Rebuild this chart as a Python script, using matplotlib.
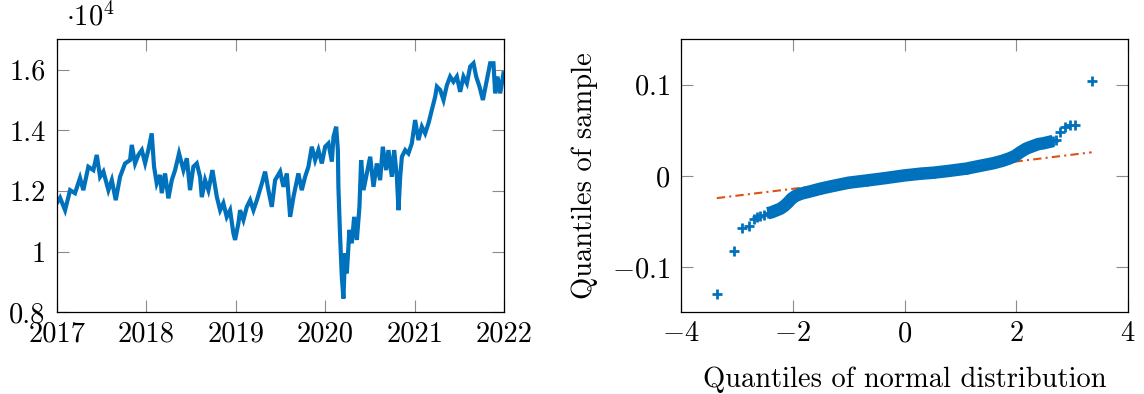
import numpy as np
import matplotlib
matplotlib.use("Agg")
import matplotlib.pyplot as plt

plt.rcParams['font.family'] = 'serif'
plt.rcParams['font.serif'] = ['cmr10']
plt.rcParams['mathtext.fontset'] = 'cm'
plt.rcParams['axes.formatter.use_mathtext'] = True
plt.rcParams['font.size'] = 20

# index level (x1e4), sampled along 2017-2022
years = [2017.000, 2017.037, 2017.093, 2017.149, 2017.204, 2017.260, 2017.297, 2017.353,
         2017.409, 2017.447, 2017.484, 2017.521, 2017.577, 2017.615, 2017.659, 2017.707,
         2017.763, 2017.819, 2017.838, 2017.875, 2017.912, 2017.950, 2017.987, 2018.023,
         2018.061, 2018.087, 2018.117, 2018.154, 2018.173, 2018.210, 2018.247, 2018.285,
         2018.322, 2018.366, 2018.415, 2018.453, 2018.489, 2018.526, 2018.564, 2018.601,
         2018.620, 2018.657, 2018.694, 2018.739, 2018.788, 2018.825, 2018.861, 2018.899,
         2018.936, 2018.973, 2018.992, 2019.029, 2019.048, 2019.085, 2019.123, 2019.160,
         2019.197, 2019.235, 2019.291, 2019.327, 2019.364, 2019.402, 2019.439, 2019.495,
         2019.532, 2019.570, 2019.607, 2019.644, 2019.699, 2019.737, 2019.774, 2019.811,
         2019.849, 2019.886, 2019.923, 2019.961, 2019.998, 2020.035, 2020.073, 2020.091,
         2020.121, 2020.140, 2020.146, 2020.165, 2020.184, 2020.202, 2020.221, 2020.240,
         2020.269, 2020.296, 2020.322, 2020.352, 2020.381, 2020.400, 2020.426, 2020.464,
         2020.501, 2020.538, 2020.575, 2020.612, 2020.642, 2020.679, 2020.705, 2020.743,
         2020.769, 2020.799, 2020.817, 2020.836, 2020.855, 2020.892, 2020.928, 2020.966,
         2021.003, 2021.040, 2021.078, 2021.115, 2021.152, 2021.190, 2021.227, 2021.246,
         2021.283, 2021.320, 2021.358, 2021.394, 2021.431, 2021.469, 2021.506, 2021.543,
         2021.581, 2021.618, 2021.655, 2021.685, 2021.722, 2021.760, 2021.804, 2021.841,
         2021.878, 2021.897, 2021.923, 2021.953, 2021.990]
level = [1.160, 1.178, 1.137, 1.203, 1.193, 1.243, 1.203, 1.280,
         1.269, 1.319, 1.247, 1.264, 1.203, 1.236, 1.170, 1.247,
         1.291, 1.302, 1.352, 1.291, 1.319, 1.335, 1.292, 1.335,
         1.390, 1.280, 1.225, 1.253, 1.193, 1.258, 1.176, 1.236,
         1.269, 1.324, 1.269, 1.308, 1.203, 1.280, 1.291, 1.247,
         1.180, 1.236, 1.203, 1.269, 1.181, 1.137, 1.160, 1.115,
         1.137, 1.061, 1.039, 1.094, 1.137, 1.105, 1.148, 1.170,
         1.137, 1.170, 1.225, 1.264, 1.203, 1.148, 1.236, 1.264,
         1.214, 1.258, 1.115, 1.181, 1.258, 1.203, 1.247, 1.280,
         1.346, 1.302, 1.335, 1.291, 1.346, 1.357, 1.297, 1.379,
         1.412, 1.335, 1.214, 1.050, 0.918, 0.846, 0.995, 0.929,
         1.072, 1.028, 1.115, 1.039, 1.148, 1.302, 1.203, 1.258,
         1.313, 1.214, 1.291, 1.236, 1.346, 1.269, 1.335, 1.247,
         1.335, 1.247, 1.137, 1.247, 1.313, 1.335, 1.324, 1.357,
         1.434, 1.368, 1.412, 1.390, 1.423, 1.467, 1.511, 1.544,
         1.533, 1.500, 1.549, 1.577, 1.560, 1.577, 1.527, 1.577,
         1.555, 1.610, 1.621, 1.577, 1.544, 1.500, 1.566, 1.621,
         1.621, 1.522, 1.577, 1.522, 1.588]

# QQ plot: normal quantiles vs sample quantiles of the returns
qq_normal = [-3.36, -3.05, -2.90, -2.78, -2.70, -2.64, -2.58, -2.52, -2.45, -2.38,
             -2.30, -2.22, -2.15, -2.08, -2.02, -1.95, -1.85, -1.69, -1.50, -1.27,
             -1.00, -0.68, -0.35, 0.00, 0.30, 0.52, 0.80, 1.11, 1.35, 1.59,
             1.75, 1.89, 1.98, 2.07, 2.18, 2.30, 2.40, 2.48, 2.57, 2.66,
             2.72, 2.78, 2.87, 2.97, 3.05, 3.36]
qq_sample = [-0.130, -0.082, -0.057, -0.055, -0.047, -0.045, -0.044, -0.0425, -0.041, -0.040,
             -0.038, -0.036, -0.033, -0.029, -0.025, -0.022, -0.0195, -0.0171, -0.014, -0.0109,
             -0.0075, -0.0051, -0.0025, 0.0005, 0.0025, 0.0035, 0.0055, 0.008, 0.011, 0.0139,
             0.0165, 0.0195, 0.022, 0.0259, 0.030, 0.0328, 0.035, 0.0357, 0.037, 0.0383,
             0.039, 0.048, 0.054, 0.0557, 0.0557, 0.104]
ref_x = [-3.36, 3.35]
ref_y = [-0.0244, 0.0259]

blue = '#0072BD'
orange = '#D95319'


def style_axes(ax):
    ax.tick_params(direction='in', top=True, right=True, length=8.5, width=0.8,
                   color='#8c8c8c', pad=8, labelsize=20.5)
    for s in ax.spines.values():
        s.set_linewidth(0.9)
        s.set_color('black')


fig = plt.figure(figsize=(11.44, 3.94), dpi=100)
ax1 = fig.add_axes([0.0496, 0.2069, 0.3913, 0.6934])
ax2 = fig.add_axes([0.5953, 0.2069, 0.3907, 0.6934])

# price series
ax1.plot(years, level, color=blue, lw=3.0, solid_joinstyle='miter')
ax1.set_xlim(2017, 2022)
ax1.set_ylim(0.8, 1.7)
ax1.set_xticks([2017, 2018, 2019, 2020, 2021, 2022])
ax1.set_xticklabels(['2017', '2018', '2019', '2020', '2021', '2022'])
ax1.set_yticks([0.8, 1.0, 1.2, 1.4, 1.6])
ax1.set_yticklabels(['0.8', '1', '1.2', '1.4', '1.6'])
style_axes(ax1)
ax1.tick_params(axis='x', pad=6)
ax1.text(0.02, 1.03, r'$\cdot 10^4$', transform=ax1.transAxes, fontsize=20.5,
         ha='left', va='bottom')

# qq plot
ax2.plot(ref_x, ref_y, color=orange, lw=1.5, dashes=(4, 2, 1, 2))
body = slice(8, 40)
ax2.plot(qq_normal[body], qq_sample[body], color=blue, lw=9, solid_capstyle='butt')
ax2.plot(qq_normal, qq_sample, ls='none', marker='+', ms=7.5, mew=2, color=blue)
ax2.set_xlim(-4, 4)
ax2.set_ylim(-0.15, 0.15)
ax2.set_xticks([-4, -2, 0, 2, 4])
ax2.set_xticklabels(['$-4$', '$-2$', '$0$', '$2$', '$4$'])
ax2.set_yticks([-0.1, 0, 0.1])
ax2.set_yticklabels(['$-0.1$', '$0$', '$0.1$'])
style_axes(ax2)
ax2.tick_params(axis='x', pad=6)
ax2.set_xlabel('Quantiles of normal distribution', fontsize=20.5, labelpad=14)
ax2.set_ylabel('Quantiles of sample', fontsize=20.5, labelpad=10)

fig.savefig('out.png', dpi=100)
